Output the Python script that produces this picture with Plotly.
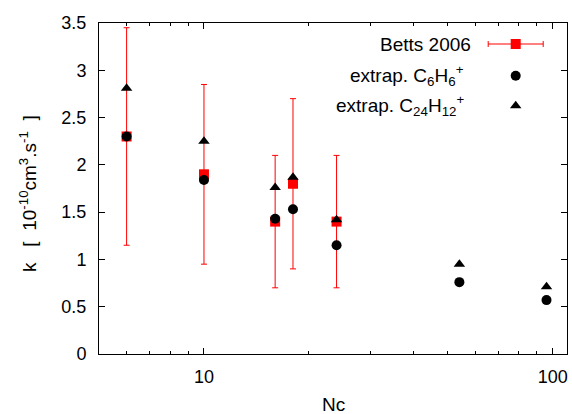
import plotly.graph_objects as go

# Betts 2006 measurements (k with +/- error)
nc_betts = [6, 10, 16, 18, 24]
k_betts = [2.30, 1.90, 1.40, 1.80, 1.40]
err_betts = [1.15, 0.95, 0.70, 0.90, 0.70]

# extrapolated values
nc_ext = [6, 10, 16, 18, 24, 54, 96]
k_c6h6 = [2.30, 1.84, 1.43, 1.53, 1.15, 0.76, 0.57]
k_c24h12 = [2.81, 2.25, 1.76, 1.87, 1.42, 0.95, 0.71]

legend_labels = ['Betts 2006',
                 'extrap. C<sub>6</sub>H<sub>6</sub><sup>+</sup>',
                 'extrap. C<sub>24</sub>H<sub>12</sub><sup>+</sup>']

FONT = 'Liberation Sans, Arial, sans-serif'
W, H = 572, 414
PL, PR, PT, PB = 99, 567, 23, 354          # plot box in pixels
L, T, R, B = PL, PT, W - PR, H - PB
pw, ph = PR - PL, PB - PT


def px_x(p):
    return (p - PL) / pw


def px_y(p):
    return (PB - p) / ph


fig = go.Figure()

fig.add_trace(go.Scatter(
    x=nc_betts, y=k_betts, mode='markers',
    marker=dict(symbol='square', size=10, color='red'),
    error_y=dict(type='data', array=err_betts, color='red', thickness=1, width=3),
    showlegend=False))

fig.add_trace(go.Scatter(
    x=nc_ext, y=k_c6h6, mode='markers',
    marker=dict(symbol='circle', size=10, color='black'),
    showlegend=False))

fig.add_trace(go.Scatter(
    x=nc_ext, y=k_c24h12, mode='markers',
    marker=dict(symbol='triangle-up', size=10, color='black'),
    showlegend=False))

# --- hand-made key (gnuplot style: text on the left, sample on the right) ---
sx = px_x(515.7)
rows = [px_y(44), px_y(75.7), px_y(105.7)]
fig.add_trace(go.Scatter(
    x=[sx], y=[rows[0]], xaxis='x2', yaxis='y2', mode='markers',
    marker=dict(symbol='square', size=10, color='red'),
    error_x=dict(type='constant', value=27.5 / pw, color='red', thickness=1, width=3),
    showlegend=False, hoverinfo='skip'))
fig.add_trace(go.Scatter(
    x=[sx], y=[rows[1]], xaxis='x2', yaxis='y2', mode='markers',
    marker=dict(symbol='circle', size=10, color='black'),
    showlegend=False, hoverinfo='skip'))
fig.add_trace(go.Scatter(
    x=[sx], y=[rows[2]], xaxis='x2', yaxis='y2', mode='markers',
    marker=dict(symbol='triangle-up', size=10, color='black'),
    showlegend=False, hoverinfo='skip'))

text_right = [px_x(473), px_x(466), px_x(466)]
annotations = []
for lab, xr, yr in zip(legend_labels, text_right, rows):
    annotations.append(dict(text=lab, x=xr, y=yr, xref='paper', yref='paper',
                            xanchor='right', yanchor='middle', showarrow=False,
                            font=dict(size=19, family=FONT, color='black')))

# axis titles placed by hand so the plot box stays put
annotations.append(dict(
    text='k&nbsp;&nbsp;&nbsp;[&nbsp;&nbsp;10<sup>-10</sup>cm<sup>3</sup>.s<sup>-1</sup>&nbsp;&nbsp;]',
    x=px_x(28), y=px_y(194), xref='paper', yref='paper', textangle=-90,
    xanchor='center', yanchor='middle', showarrow=False,
    font=dict(size=19, family=FONT, color='black')))
annotations.append(dict(
    text='Nc', x=px_x(333), y=px_y(404), xref='paper', yref='paper',
    xanchor='center', yanchor='middle', showarrow=False,
    font=dict(size=19, family=FONT, color='black')))

fig.update_layout(
    width=W, height=H,
    margin=dict(l=L, r=R, t=T, b=B),
    paper_bgcolor='white', plot_bgcolor='white',
    font=dict(family=FONT, size=18, color='black'),
    annotations=annotations,
    xaxis=dict(
        type='log', range=[0.699, 2.041], automargin=False,
        tickvals=[10, 100], ticktext=['10', '100'],
        ticks='inside', ticklen=6, tickcolor='black', ticklabelstandoff=6,
        minor=dict(tickvals=[5, 6, 7, 8, 9, 20, 30, 40, 50, 60, 70, 80, 90],
                   ticks='inside', ticklen=3, tickcolor='black'),
        showline=True, linecolor='black', linewidth=1, mirror='ticks',
        showgrid=False, zeroline=False,
    ),
    yaxis=dict(
        range=[0, 3.5], dtick=0.5, automargin=False,
        ticks='inside', ticklen=6, tickcolor='black', ticklabelstandoff=8,
        showline=True, linecolor='black', linewidth=1, mirror='ticks',
        showgrid=False, zeroline=False,
    ),
    xaxis2=dict(overlaying='x', range=[0, 1], visible=False, fixedrange=True),
    yaxis2=dict(overlaying='y', range=[0, 1], visible=False, fixedrange=True),
)

# drop the default page margin so the figure fills the window exactly
fig.write_html('out.html', config={'displayModeBar': False},
               post_script="document.body.style.margin='0';document.body.style.overflow='hidden';")
